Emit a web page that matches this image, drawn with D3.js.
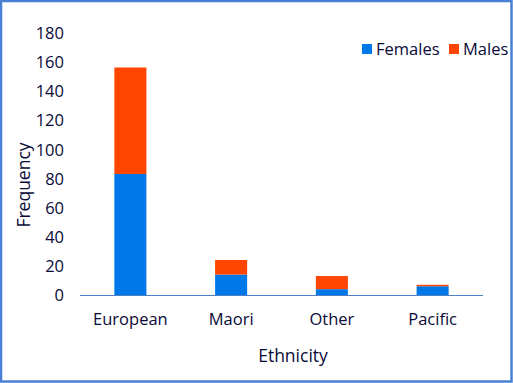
<!DOCTYPE html>
<html><head><meta charset="utf-8">
<script src="https://cdn.jsdelivr.net/npm/d3@7/dist/d3.min.js"></script>
<style>html,body{margin:0;padding:0;background:#fff;}svg{display:block;}</style>
</head><body>
<script>
const categories = ["European", "Maori", "Other", "Pacific"];
const females = [83, 14, 4, 6];
const males = [73, 10, 9, 1];
const seriesNames = ["Females", "Males"];
const yTicks = [0, 20, 40, 60, 80, 100, 120, 140, 160, 180];
const colors = ["#0078e8", "#ff4500"];

const W = 513, H = 383;
const svg = d3.select("body").append("svg").attr("width", W).attr("height", H);
svg.append("rect").attr("x", 0).attr("y", 0).attr("width", W).attr("height", H).attr("fill", "#fff");
svg.append("rect").attr("x", 1).attr("y", 1).attr("width", W - 2.5).attr("height", H - 2.5)
  .attr("fill", "none").attr("stroke", "#4a80d4").attr("stroke-width", 2.5);

const font = "'Open Sans', Lato, sans-serif";
const txt = "#0a0a38";
const fw = 500;

const x = d3.scaleBand().domain(categories).range([80, 483]).paddingInner(0.682).paddingOuter(0.341);
const y = d3.scaleLinear().domain([0, 180]).range([295, 32.5]);

const table = categories.map((c, i) => ({cat: c, Females: females[i], Males: males[i]}));
const stack = d3.stack().keys(seriesNames)(table);

svg.append("g").selectAll("g").data(stack).join("g").attr("fill", (d, i) => colors[i])
  .selectAll("rect").data(d => d).join("rect")
  .attr("x", d => x(d.data.cat)).attr("width", x.bandwidth())
  .attr("y", d => y(d[1])).attr("height", d => y(d[0]) - y(d[1]));

// y axis labels
const yAxis = d3.axisLeft(y).tickValues(yTicks).tickSize(0).tickPadding(0);
const gy = svg.append("g").attr("transform", "translate(64,0)").call(yAxis);
gy.select(".domain").remove();
gy.selectAll("text").attr("font-family", font).attr("font-size", 16.5).attr("font-weight", fw)
  .attr("fill", txt).attr("dy", "0.36em");

// x axis
const xAxis = d3.axisBottom(x).tickSize(0).tickPadding(0);
const gx = svg.append("g").attr("transform", "translate(0,295)").call(xAxis);
gx.select(".domain").remove();
gx.selectAll("text").attr("font-family", font).attr("font-size", 16.5).attr("font-weight", fw)
  .attr("fill", txt).attr("dy", "0").attr("y", 30);
svg.append("line").attr("x1", 80).attr("x2", 483).attr("y1", 295.5).attr("y2", 295.5)
  .attr("stroke", "#4f7fc8").attr("stroke-width", 1.2);

// axis titles
svg.append("text").attr("x", 293).attr("y", 362).attr("text-anchor", "middle")
  .attr("font-family", font).attr("font-size", 17.5).attr("font-weight", fw).attr("fill", txt).text("Ethnicity");
svg.append("text").attr("transform", "translate(30,185) rotate(-90)").attr("text-anchor", "middle")
  .attr("font-family", font).attr("font-size", 17.5).attr("font-weight", fw).attr("fill", txt).text("Frequency");

// legend
const leg = [{name: "Females", sx: 362, tx: 376}, {name: "Males", sx: 449, tx: 463}];
leg.forEach((l, i) => {
  svg.append("rect").attr("x", l.sx).attr("y", 44).attr("width", 10).attr("height", 10).attr("fill", colors[i]);
  svg.append("text").attr("x", l.tx).attr("y", 54.5).attr("font-family", font).attr("font-size", 16.5)
    .attr("font-weight", fw).attr("fill", txt).text(l.name);
});
</script>
</body></html>
